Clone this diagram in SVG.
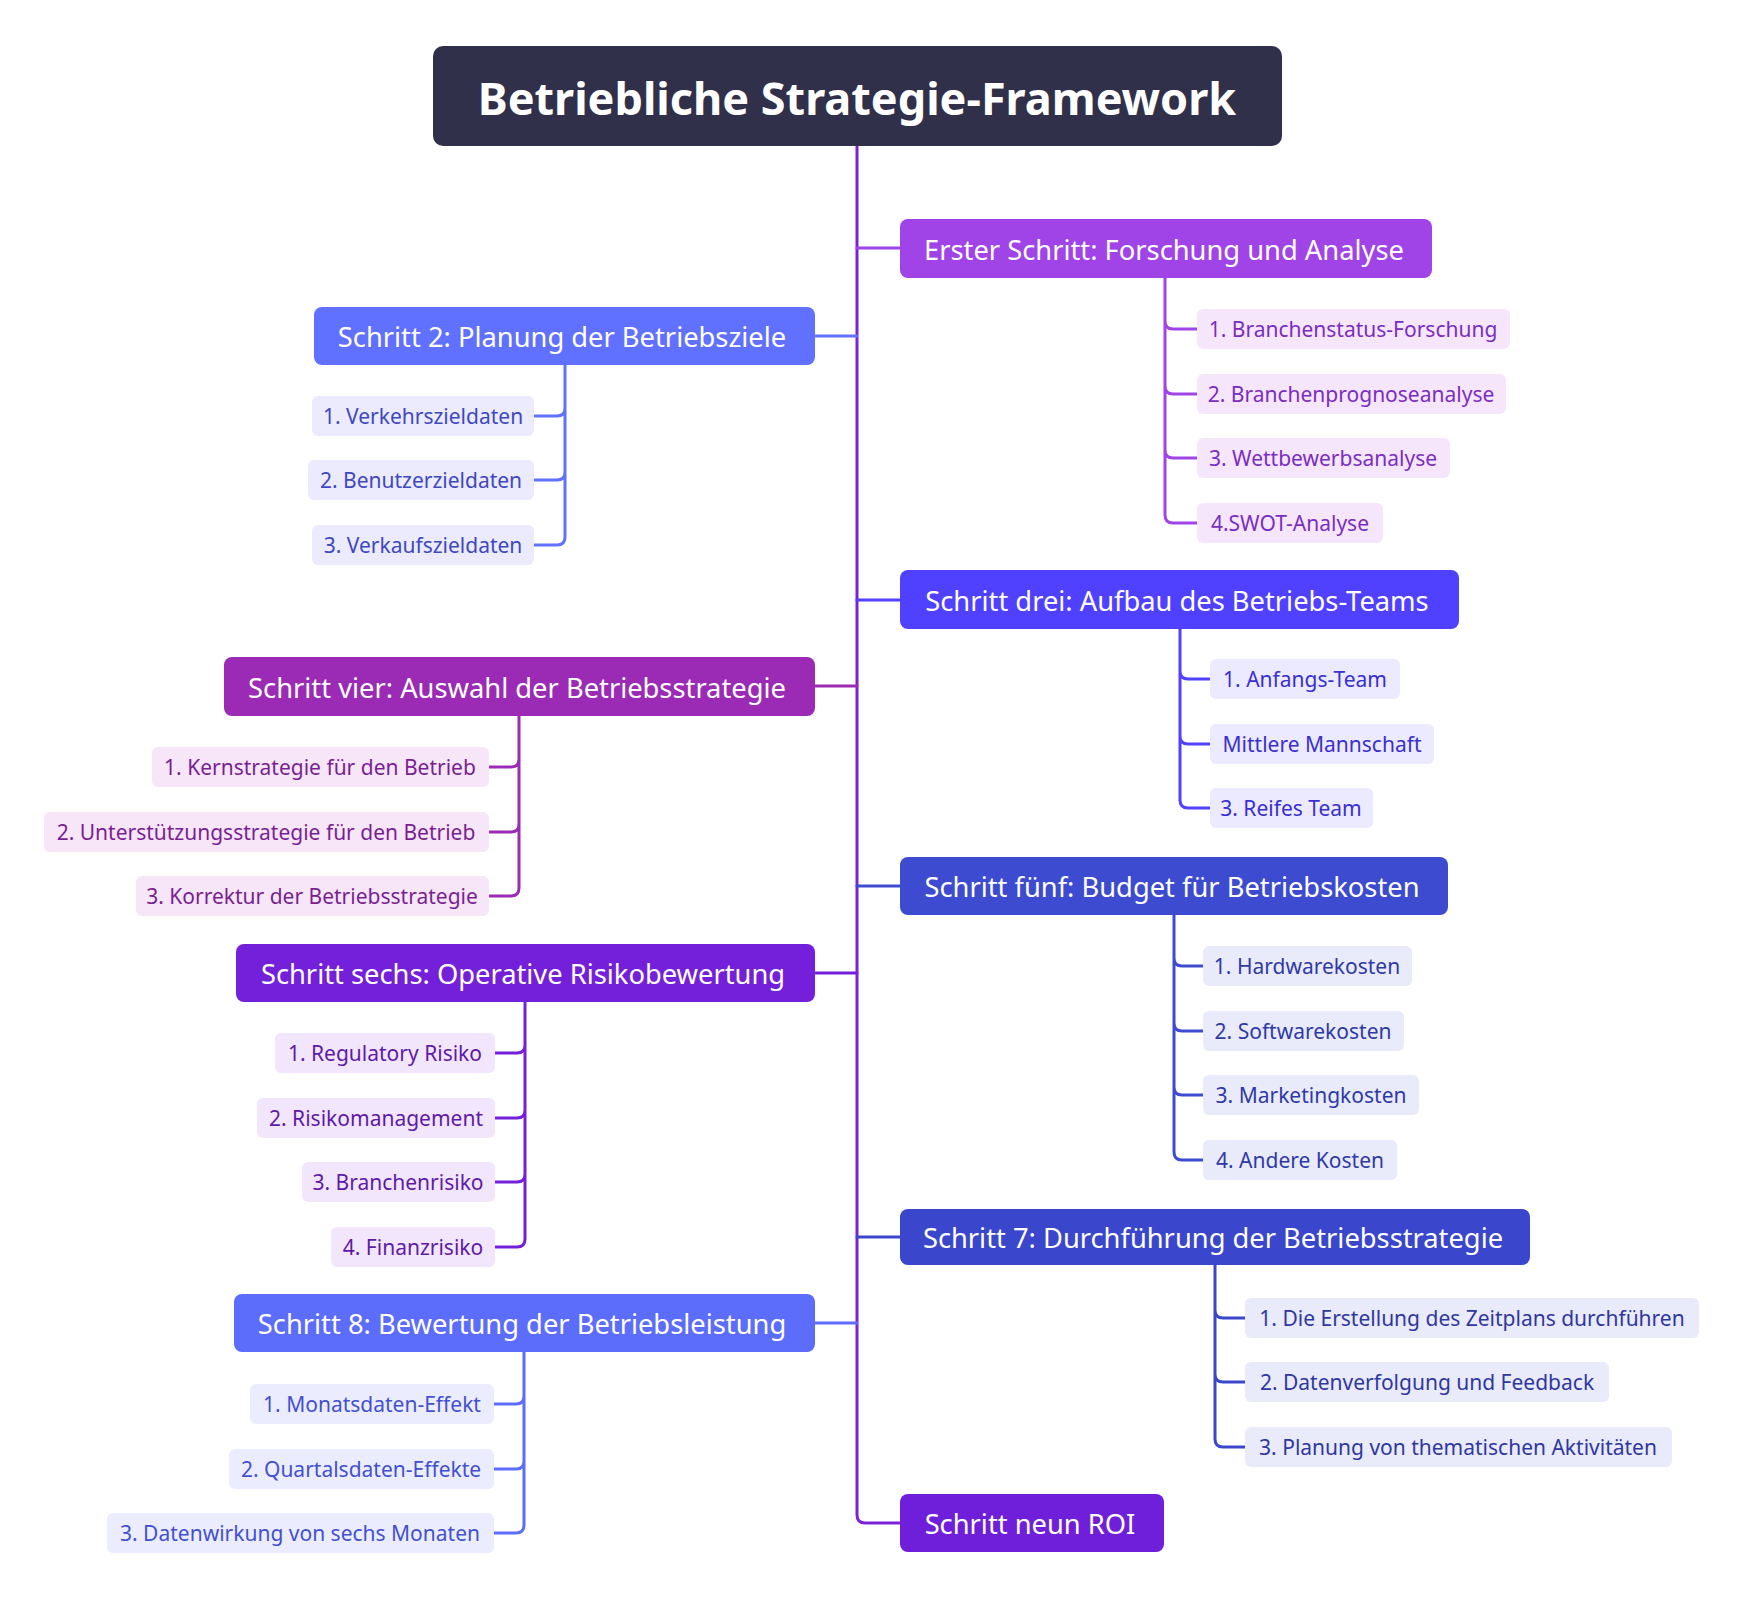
<svg xmlns="http://www.w3.org/2000/svg" width="1744" height="1614" viewBox="0 0 1744 1614">
<style>
text{font-family:"Noto Sans","Open Sans",sans-serif;text-anchor:middle;dominant-baseline:central}
.m{font-size:27.3px;fill:#fff}
.c{font-size:21px}
.l{fill:none;stroke-width:3;stroke-linecap:round}
</style>
<rect width="1744" height="1614" fill="#fff"/>
<g id="connectors">
<path class="l" stroke="#7a22d8" d="M857 146V1515Q857 1523 865 1523H900"/>
<path class="l" stroke="#a044e8" d="M857 248H900"/>
<path class="l" stroke="#6070ff" d="M857 336H815"/>
<path class="l" stroke="#5040ff" d="M857 600H900"/>
<path class="l" stroke="#9b2bb5" d="M857 686H815"/>
<path class="l" stroke="#3d4bd1" d="M857 886H900"/>
<path class="l" stroke="#7420db" d="M857 973H815"/>
<path class="l" stroke="#3a47cc" d="M857 1237H900"/>
<path class="l" stroke="#5c6cfb" d="M857 1323H815"/>
<path class="l" stroke="#a044e8" d="M1165 278V321Q1165 329 1173 329H1197M1165 321V386Q1165 394 1173 394H1197M1165 386V450Q1165 458 1173 458H1197M1165 450V515Q1165 523 1173 523H1197"/>
<path class="l" stroke="#6070ff" d="M565 365V408Q565 416 557 416H534M565 408V472Q565 480 557 480H534M565 472V537Q565 545 557 545H534"/>
<path class="l" stroke="#5040ff" d="M1180 629V671Q1180 679 1188 679H1210M1180 671V736Q1180 744 1188 744H1210M1180 736V800Q1180 808 1188 808H1210"/>
<path class="l" stroke="#9b2bb5" d="M519 716V759Q519 767 511 767H489M519 759V824Q519 832 511 832H489M519 824V888Q519 896 511 896H489"/>
<path class="l" stroke="#3d4bd1" d="M1174 915V958Q1174 966 1182 966H1203M1174 958V1023Q1174 1031 1182 1031H1203M1174 1023V1087Q1174 1095 1182 1095H1203M1174 1087V1152Q1174 1160 1182 1160H1203"/>
<path class="l" stroke="#7420db" d="M525 1002V1045Q525 1053 517 1053H495M525 1045V1110Q525 1118 517 1118H495M525 1110V1174Q525 1182 517 1182H495M525 1174V1239Q525 1247 517 1247H495"/>
<path class="l" stroke="#3a47cc" d="M1215 1265V1310Q1215 1318 1223 1318H1245M1215 1310V1374Q1215 1382 1223 1382H1245M1215 1374V1439Q1215 1447 1223 1447H1245"/>
<path class="l" stroke="#5c6cfb" d="M524 1352V1396Q524 1404 516 1404H494M524 1396V1461Q524 1469 516 1469H494M524 1461V1525Q524 1533 516 1533H494"/>
</g>
<g id="title"><rect x="433" y="46" width="849" height="100" rx="10" fill="#31304a"/><text x="857" y="97" font-size="45" font-weight="bold" fill="#fff">Betriebliche Strategie-Framework</text></g>
<g id="n1"><rect x="900" y="219" width="532" height="59" rx="8" fill="#a044e8"/><text class="m" x="1164" y="249">Erster Schritt: Forschung und Analyse</text></g>
<g id="n2"><rect x="314" y="307" width="501" height="58" rx="8" fill="#6070ff"/><text class="m" x="562" y="336">Schritt 2: Planung der Betriebsziele</text></g>
<g id="n3"><rect x="900" y="570" width="559" height="59" rx="8" fill="#5040ff"/><text class="m" x="1177" y="600">Schritt drei: Aufbau des Betriebs-Teams</text></g>
<g id="n4"><rect x="224" y="657" width="591" height="59" rx="8" fill="#9b2bb5"/><text class="m" x="517" y="687">Schritt vier: Auswahl der Betriebsstrategie</text></g>
<g id="n5"><rect x="900" y="857" width="548" height="58" rx="8" fill="#3d4bd1"/><text class="m" x="1172" y="886">Schritt fünf: Budget für Betriebskosten</text></g>
<g id="n6"><rect x="236" y="944" width="579" height="58" rx="8" fill="#7420db"/><text class="m" x="523" y="973">Schritt sechs: Operative Risikobewertung</text></g>
<g id="n7"><rect x="900" y="1209" width="630" height="56" rx="8" fill="#3a47cc"/><text class="m" x="1213" y="1237">Schritt 7: Durchführung der Betriebsstrategie</text></g>
<g id="n8"><rect x="234" y="1294" width="581" height="58" rx="8" fill="#5c6cfb"/><text class="m" x="522" y="1323">Schritt 8: Bewertung der Betriebsleistung</text></g>
<g id="n9"><rect x="900" y="1494" width="264" height="58" rx="8" fill="#6f1fd9"/><text class="m" x="1030" y="1523">Schritt neun ROI</text></g>
<g id="c1" class="c" fill="#7a2ec0">
<rect x="1197" y="309" width="313" height="40" rx="6" fill="#f5e6fc"/><text x="1353" y="329">1. Branchenstatus-Forschung</text>
<rect x="1197" y="374" width="309" height="40" rx="6" fill="#f5e6fc"/><text x="1351" y="394">2. Branchenprognoseanalyse</text>
<rect x="1197" y="438" width="253" height="40" rx="6" fill="#f5e6fc"/><text x="1323" y="458">3. Wettbewerbsanalyse</text>
<rect x="1197" y="503" width="186" height="40" rx="6" fill="#f5e6fc"/><text x="1290" y="523">4.SWOT-Analyse</text>
</g>
<g id="c2" class="c" fill="#4048c0">
<rect x="312" y="396" width="222" height="40" rx="6" fill="#ebebfd"/><text x="423" y="416">1. Verkehrszieldaten</text>
<rect x="308" y="460" width="226" height="40" rx="6" fill="#ebebfd"/><text x="421" y="480">2. Benutzerzieldaten</text>
<rect x="312" y="525" width="222" height="40" rx="6" fill="#ebebfd"/><text x="423" y="545">3. Verkaufszieldaten</text>
</g>
<g id="c3" class="c" fill="#3a2fd0">
<rect x="1210" y="659" width="190" height="40" rx="6" fill="#ebeafe"/><text x="1305" y="679">1. Anfangs-Team</text>
<rect x="1210" y="724" width="224" height="40" rx="6" fill="#ebeafe"/><text x="1322" y="744">Mittlere Mannschaft</text>
<rect x="1210" y="788" width="163" height="40" rx="6" fill="#ebeafe"/><text x="1291" y="808">3. Reifes Team</text>
</g>
<g id="c4" class="c" fill="#7a1f92">
<rect x="152" y="747" width="337" height="40" rx="6" fill="#f6e6f8"/><text x="320" y="767">1. Kernstrategie für den Betrieb</text>
<rect x="44" y="812" width="445" height="40" rx="6" fill="#f6e6f8"/><text x="266" y="832">2. Unterstützungsstrategie für den Betrieb</text>
<rect x="136" y="876" width="353" height="40" rx="6" fill="#f6e6f8"/><text x="312" y="896">3. Korrektur der Betriebsstrategie</text>
</g>
<g id="c5" class="c" fill="#2f3aa8">
<rect x="1203" y="946" width="209" height="40" rx="6" fill="#e9eafa"/><text x="1307" y="966">1. Hardwarekosten</text>
<rect x="1203" y="1011" width="201" height="40" rx="6" fill="#e9eafa"/><text x="1303" y="1031">2. Softwarekosten</text>
<rect x="1203" y="1075" width="216" height="40" rx="6" fill="#e9eafa"/><text x="1311" y="1095">3. Marketingkosten</text>
<rect x="1203" y="1140" width="194" height="40" rx="6" fill="#e9eafa"/><text x="1300" y="1160">4. Andere Kosten</text>
</g>
<g id="c6" class="c" fill="#5f1aa8">
<rect x="275" y="1033" width="220" height="40" rx="6" fill="#f1e6fb"/><text x="385" y="1053">1. Regulatory Risiko</text>
<rect x="257" y="1098" width="238" height="40" rx="6" fill="#f1e6fb"/><text x="376" y="1118">2. Risikomanagement</text>
<rect x="302" y="1162" width="193" height="40" rx="6" fill="#f1e6fb"/><text x="398" y="1182">3. Branchenrisiko</text>
<rect x="331" y="1227" width="164" height="40" rx="6" fill="#f1e6fb"/><text x="413" y="1247">4. Finanzrisiko</text>
</g>
<g id="c7" class="c" fill="#2f38a0">
<rect x="1245" y="1298" width="454" height="40" rx="6" fill="#e9eafa"/><text x="1472" y="1318">1. Die Erstellung des Zeitplans durchführen</text>
<rect x="1245" y="1362" width="364" height="40" rx="6" fill="#e9eafa"/><text x="1427" y="1382">2. Datenverfolgung und Feedback</text>
<rect x="1245" y="1427" width="427" height="40" rx="6" fill="#e9eafa"/><text x="1458" y="1447">3. Planung von thematischen Aktivitäten</text>
</g>
<g id="c8" class="c" fill="#4350d0">
<rect x="250" y="1384" width="244" height="40" rx="6" fill="#ebedfe"/><text x="372" y="1404">1. Monatsdaten-Effekt</text>
<rect x="229" y="1449" width="265" height="40" rx="6" fill="#ebedfe"/><text x="361" y="1469">2. Quartalsdaten-Effekte</text>
<rect x="107" y="1513" width="387" height="40" rx="6" fill="#ebedfe"/><text x="300" y="1533">3. Datenwirkung von sechs Monaten</text>
</g>
</svg>
